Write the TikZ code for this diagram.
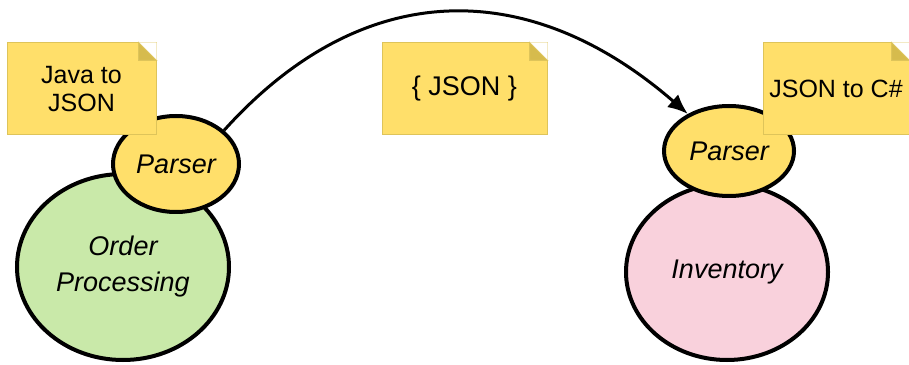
\documentclass[tikz,border=0pt]{standalone}
\usepackage{fontspec}
\setmainfont{Liberation Sans}
\usetikzlibrary{positioning,shapes.geometric,arrows.meta}

\definecolor{notefill}{RGB}{255,223,106}
\definecolor{noteline}{RGB}{222,196,90}
\definecolor{foldfill}{RGB}{214,187,77}
\definecolor{svcgreen}{RGB}{201,233,169}
\definecolor{svcpink}{RGB}{249,209,220}

\tikzset{
  service/.style={ellipse, draw=black, line width=4pt, inner sep=0pt,
    align=center, font=\fontsize{27}{36}\selectfont\itshape},
  parser/.style={ellipse, draw=black, line width=4pt, inner sep=0pt,
    fill=notefill, font=\fontsize{27}{30}\selectfont\itshape},
  notebox/.style={rectangle, fill=notefill, draw=noteline, line width=1pt,
    minimum height=92pt, align=center, font=\fontsize{25}{28}\selectfont},
}
\newcommand{\foldcorner}[1]{%
  \fill[white] (#1.north east) -- ++(-18,0) -- ++(18,-18) -- cycle;
  \filldraw[fill=foldfill, draw=noteline, line width=1pt]
    (#1.north east) ++(-18,0) -- ++(18,-18) -- ++(-18,0) -- cycle;
}

\begin{document}
\begin{tikzpicture}[x=1pt,y=1pt]
\useasboundingbox (0,0) rectangle (909,364);

\node[service, fill=svcgreen, minimum width=212pt, minimum height=186pt] (order) at (123,97) {Order\\Processing};
\node[service, fill=svcpink, minimum width=202pt, minimum height=176pt] (inventory) at (727,92) {Inventory};

\node[parser, minimum width=126pt, minimum height=96pt] (lparser) at (176,200) {Parser};
\node[parser, minimum width=130pt, minimum height=90pt] (rparser) at (729,213) {Parser};

\draw[line width=3pt, -{Latex[length=20pt,width=17pt]}]
  (lparser.35) to[out=48, in=139, looseness=1.15] (rparser.138);

\node[notebox, minimum width=149pt] (javanote) at (81.5,275) {Java to\\JSON};
\node[notebox, minimum width=165pt, font=\fontsize{27}{30}\selectfont] (jsonnote) at (464.5,275) {\{ JSON \}};
\node[notebox, minimum width=146pt] (csnote) at (836,275) {JSON to C\#};

\foldcorner{javanote}
\foldcorner{jsonnote}
\foldcorner{csnote}

\end{tikzpicture}
\end{document}
